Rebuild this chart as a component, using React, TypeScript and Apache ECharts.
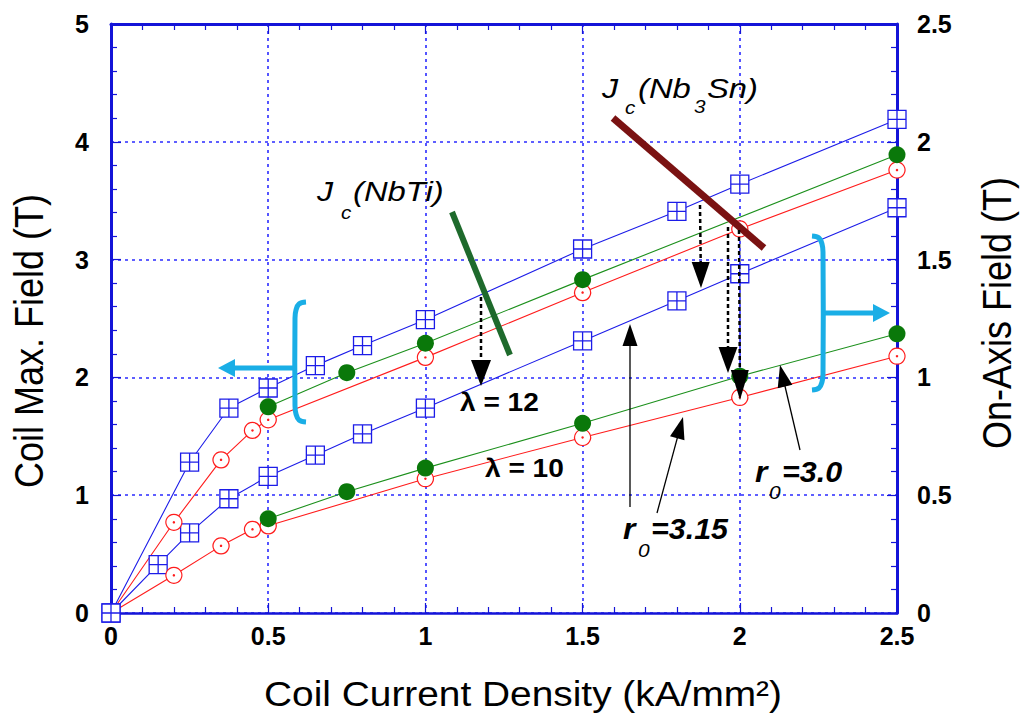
import React, { useEffect, useRef } from "react";
import * as echarts from "echarts";

// ---- data ----
// left axis: Coil Max. Field (T)
const blueMaxField: [number, number][] = [
  [0, 0], [0.25, 1.28], [0.375, 1.74], [0.5, 1.91], [0.65, 2.10], [0.8, 2.27],
  [1, 2.49], [1.5, 3.09], [1.8, 3.41], [2, 3.64], [2.5, 4.19],
];
const redMaxField: [number, number][] = [
  [0, 0], [0.2, 0.77], [0.35, 1.30], [0.45, 1.55], [0.5, 1.64], [1, 2.17],
  [1.5, 2.72], [2, 3.26], [2.5, 3.76],
];
const greenMaxField: [number, number][] = [
  [0.5, 1.75], [0.75, 2.04], [1, 2.29], [1.5, 2.83], [2.5, 3.89],
];
// right axis: On-Axis Field (T)
const blueOnAxis: [number, number][] = [
  [0, 0], [0.15, 0.205], [0.25, 0.34], [0.375, 0.485], [0.5, 0.58], [0.65, 0.67],
  [0.8, 0.76], [1, 0.87], [1.5, 1.155], [1.8, 1.325], [2, 1.44], [2.5, 1.72],
];
const redOnAxis: [number, number][] = [
  [0, 0], [0.2, 0.16], [0.35, 0.285], [0.45, 0.355], [0.5, 0.37], [1, 0.57],
  [1.5, 0.745], [2, 0.915], [2.5, 1.09],
];
const greenOnAxis: [number, number][] = [
  [0.5, 0.40], [0.75, 0.515], [1, 0.615], [1.5, 0.805], [2, 1.005], [2.5, 1.185],
];

const xTitle = "Coil Current Density (kA/mm²)";
const yLeftTitle = "Coil Max. Field (T)";
const yRightTitle = "On-Axis Field (T)";

const BLUE = "#1c1ce8";
const AXIS_BLUE = "#1414d8";
const GRID_BLUE = "#2b2bff";
const RED = "#ff1c1c";
const GREEN_LINE = "#1c901c";
const GREEN_DOT = "#0a780a";
const CYAN = "#1aaee6";
const FONT = "'Liberation Sans', Arial, Helvetica, sans-serif";

const SQUARE = "path://M0,0L20,0L20,20L0,20Z M10,0L10,20 M0,10L20,10";
const CIRCLE_DOT =
  "path://M10,0A10,10 0 1,1 9.99,0Z M10,9.2A0.8,0.8 0 1,1 9.99,9.2Z";

function arrowHead(x1: number, y1: number, x2: number, y2: number, len: number, hw: number) {
  const dx = x2 - x1, dy = y2 - y1;
  const l = Math.sqrt(dx * dx + dy * dy);
  const ux = dx / l, uy = dy / l;
  const bx = x2 - ux * len, by = y2 - uy * len;
  const px = -uy, py = ux;
  return [[x2, y2], [bx + px * hw, by + py * hw], [bx - px * hw, by - py * hw]];
}

function solidArrow(x1: number, y1: number, x2: number, y2: number) {
  const head = arrowHead(x1, y1, x2, y2, 22, 7.5);
  const dx = x2 - x1, dy = y2 - y1;
  const l = Math.sqrt(dx * dx + dy * dy);
  return [
    { type: "line", z: 100, shape: { x1, y1, x2: x2 - (dx / l) * 18, y2: y2 - (dy / l) * 18 }, style: { stroke: "#000", lineWidth: 1.3 } },
    { type: "polygon", z: 100, shape: { points: head }, style: { fill: "#000" } },
  ];
}

function dottedArrow(x1: number, y1: number, x2: number, y2: number, len: number, hw: number) {
  const head = arrowHead(x1, y1, x2, y2, len, hw);
  const dx = x2 - x1, dy = y2 - y1;
  const l = Math.sqrt(dx * dx + dy * dy);
  return [
    { type: "line", z: 100, shape: { x1, y1, x2: x2 - (dx / l) * (len - 3), y2: y2 - (dy / l) * (len - 3) }, style: { stroke: "#000", lineWidth: 2.5, lineDash: [4, 3] } },
    { type: "polygon", z: 100, shape: { points: head }, style: { fill: "#000" } },
  ];
}

function txt(text: string, x: number, y: number, size: number, opts: any = {}) {
  return {
    type: "text",
    z: 100,
    x,
    y,
    scaleX: opts.scaleX ?? 1,
    scaleY: opts.scaleY ?? 1,
    rotation: opts.rotation ?? 0,
    style: {
      text,
      fontSize: size,
      fontFamily: FONT,
      fontWeight: opts.weight ?? "normal",
      fontStyle: opts.italic ? "italic" : "normal",
      fill: "#000",
      align: opts.align ?? "left",
      verticalAlign: "middle",
    },
  };
}

function lineSeries(name: string, data: [number, number][], yAxisIndex: number, kind: string) {
  const base: any = {
    name,
    type: "line",
    yAxisIndex,
    clip: false,
    data: data.map((d) =>
      kind === "red" && d[0] === 0 ? { value: d, symbol: "none" } : { value: d }
    ),
  };
  if (kind === "blue") {
    base.symbol = SQUARE;
    base.symbolSize = 18;
    base.itemStyle = { color: "#ffffff", borderColor: BLUE, borderWidth: 1.3 };
    base.lineStyle = { color: BLUE, width: 1.1 };
  } else if (kind === "red") {
    base.symbol = CIRCLE_DOT;
    base.symbolSize = 16;
    base.itemStyle = { color: "#ffffff", borderColor: RED, borderWidth: 1.2 };
    base.lineStyle = { color: RED, width: 1.1 };
  } else {
    base.symbol = "circle";
    base.symbolSize = 17;
    base.itemStyle = { color: GREEN_DOT, borderWidth: 0 };
    base.lineStyle = { color: GREEN_LINE, width: 1.1 };
  }
  return base;
}

export default function App() {
  const ref = useRef<HTMLDivElement>(null);
  useEffect(() => {
    if (!ref.current) return;
    const chart = echarts.init(ref.current, undefined, { renderer: "svg" });

    const axisLabel = { color: "#000", fontWeight: "bold", fontSize: 25, fontFamily: FONT };
    const tick = { show: true, inside: true, length: 10, lineStyle: { color: AXIS_BLUE, width: 1.2 } };
    const minor = (n: number) => ({ show: true, splitNumber: n, length: 6, lineStyle: { color: AXIS_BLUE, width: 1.2 } });
    const grid = { show: true, lineStyle: { color: GRID_BLUE, width: 1.6, type: [3, 4] } };

    const graphic: any[] = [
      // left bracket + arrow
      { type: "polyline", z: 90, shape: { smooth: 0.4, points: [[306, 302], [299, 304], [296, 310], [295, 318], [295, 406], [296, 414], [299, 420], [306, 422]] }, style: { stroke: CYAN, lineWidth: 5, fill: "none" } },
      { type: "line", z: 90, shape: { x1: 295, y1: 368, x2: 230, y2: 368 }, style: { stroke: CYAN, lineWidth: 5 } },
      { type: "polygon", z: 90, shape: { points: [[218, 368], [235, 359], [235, 377]] }, style: { fill: CYAN } },
      // right bracket + arrow
      { type: "polyline", z: 90, shape: { smooth: 0.4, points: [[812, 236], [819, 238], [822, 244], [823, 252], [823, 374], [822, 382], [819, 388], [812, 390]] }, style: { stroke: CYAN, lineWidth: 5, fill: "none" } },
      { type: "line", z: 90, shape: { x1: 823, y1: 313, x2: 876, y2: 313 }, style: { stroke: CYAN, lineWidth: 5 } },
      { type: "polygon", z: 90, shape: { points: [[890, 313], [873, 304], [873, 322]] }, style: { fill: CYAN } },
      // critical current lines
      { type: "line", z: 95, shape: { x1: 452, y1: 212, x2: 510, y2: 355 }, style: { stroke: "#1e6a2c", lineWidth: 6 } },
      { type: "line", z: 95, shape: { x1: 613, y1: 118, x2: 764, y2: 248 }, style: { stroke: "#7a1212", lineWidth: 7 } },
      // dotted arrows
      ...dottedArrow(481, 297, 481, 386, 26, 10),
      ...dottedArrow(700, 205, 701, 288, 26, 9),
      ...dottedArrow(728, 227, 728, 373, 26, 9.5),
      ...dottedArrow(739, 230, 740, 400, 30, 9),
      // solid arrows
      ...solidArrow(630, 507, 630, 324),
      ...solidArrow(657, 513, 683, 417),
      ...solidArrow(800, 450, 780, 365),
      // texts
      txt("λ = 12", 460, 402, 26, { weight: "bold", scaleX: 1.08 }),
      txt("λ = 10", 485, 468, 26, { weight: "bold", scaleX: 1.08 }),
      txt("J", 317, 191, 28, { italic: true, scaleX: 1.15 }),
      txt("c", 341, 213, 18, { italic: true, scaleX: 1.15 }),
      txt("(NbTi)", 353, 191, 28, { italic: true, scaleX: 1.17 }),
      txt("J", 602, 88, 28, { italic: true, scaleX: 1.15 }),
      txt("c", 625, 108, 18, { italic: true, scaleX: 1.15 }),
      txt("(Nb", 638, 88, 28, { italic: true, scaleX: 1.17 }),
      txt("3", 694, 107, 18, { italic: true, scaleX: 1.15 }),
      txt("Sn)", 707, 88, 28, { italic: true, scaleX: 1.17 }),
      txt("r", 623, 529, 29, { italic: true, weight: "bold", scaleX: 1.1 }),
      txt("0", 638, 550, 19, { italic: true, scaleX: 1.1 }),
      txt("=3.15", 651, 529, 29, { italic: true, weight: "bold", scaleX: 1.05 }),
      txt("r", 755, 472, 29, { italic: true, weight: "bold", scaleX: 1.1 }),
      txt("0", 769, 492, 19, { italic: true, scaleX: 1.1 }),
      txt("=3.0", 782, 472, 29, { italic: true, weight: "bold", scaleX: 1.05 }),
      // axis titles
      txt(xTitle, 523, 694, 35, { align: "center", scaleX: 1.11 }),
      txt(yLeftTitle, 29, 341, 36, { align: "center", rotation: Math.PI / 2, scaleY: 1.12 }),
      txt(yRightTitle, 997, 313, 36, { align: "center", rotation: Math.PI / 2, scaleY: 1.12 }),
    ];

    chart.setOption({
      animation: false,
      backgroundColor: "#ffffff",
      grid: { left: 111, right: 125, top: 24, bottom: 106, containLabel: false },
      xAxis: [
        {
          type: "value", position: "bottom", min: 0, max: 2.5, interval: 0.5,
          axisLine: { show: true, onZero: false, lineStyle: { color: AXIS_BLUE, width: 2.5 } },
          axisTick: tick, minorTick: minor(5), splitLine: grid,
          axisLabel: { ...axisLabel, margin: 10, showMinLabel: true, showMaxLabel: true },
        },
        {
          type: "value", position: "top", min: 0, max: 2.5, interval: 0.5,
          axisLine: { show: true, onZero: false, lineStyle: { color: AXIS_BLUE, width: 3 } },
          axisTick: tick, minorTick: minor(5), splitLine: { show: false },
          axisLabel: { show: false },
        },
      ],
      yAxis: [
        {
          type: "value", position: "left", min: 0, max: 5, interval: 1,
          axisLine: { show: true, onZero: false, lineStyle: { color: AXIS_BLUE, width: 3 } },
          axisTick: tick, minorTick: minor(5), splitLine: grid,
          axisLabel: { ...axisLabel, margin: 22, showMinLabel: true, showMaxLabel: true },
        },
        {
          type: "value", position: "right", min: 0, max: 2.5, interval: 0.5,
          axisLine: { show: true, onZero: false, lineStyle: { color: AXIS_BLUE, width: 3 } },
          axisTick: tick, minorTick: minor(5), splitLine: { show: false },
          axisLabel: { ...axisLabel, margin: 20, showMinLabel: true, showMaxLabel: true },
        },
      ],
      series: [
        lineSeries("Max field (blue)", blueMaxField, 0, "blue"),
        lineSeries("On-axis (blue)", blueOnAxis, 1, "blue"),
        lineSeries("Max field (red)", redMaxField, 0, "red"),
        lineSeries("On-axis (red)", redOnAxis, 1, "red"),
        lineSeries("Max field (green)", greenMaxField, 0, "green"),
        lineSeries("On-axis (green)", greenOnAxis, 1, "green"),
      ],
      graphic,
    });
    return () => chart.dispose();
  }, []);
  return (
    <div
      ref={ref}
      style={{ position: "fixed", left: 0, top: 0, width: 1022, height: 719, background: "#fff" }}
    />
  );
}
